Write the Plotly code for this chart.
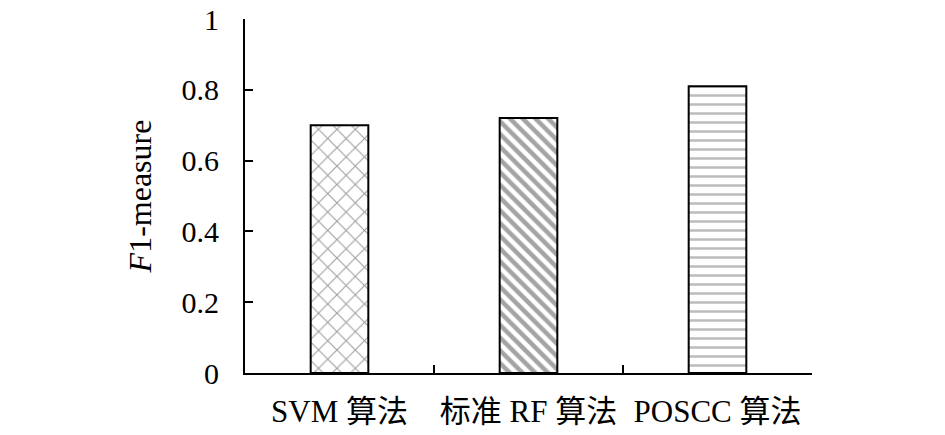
import plotly.graph_objects as go

# Kategorien und F1-Werte
algorithms = ["SVM 算法", "标准 RF 算法", "POSCC 算法"]
f1_scores = [0.70, 0.72, 0.81]
y_ticks = [0, 0.2, 0.4, 0.6, 0.8, 1]
y_tick_labels = ["0", "0.2", "0.4", "0.6", "0.8", "1"]

FONT = "Liberation Serif, Times New Roman, Noto Sans CJK SC, serif"

fig = go.Figure()

fig.add_trace(go.Bar(
    x=algorithms,
    y=f1_scores,
    width=0.305,
    marker=dict(
        color="white",
        line=dict(color="black", width=2),
        pattern=dict(
            shape=["x", "\\", "-"],
            fgcolor=["#3c3c3c", "#4a4a4a", "#7a7a7a"],
            bgcolor="white",
            size=[13, 9, 9],
            solidity=[0.16, 0.5, 0.28],
            fillmode="overlay",
        ),
    ),
    showlegend=False,
))

fig.update_layout(
    width=945,
    height=435,
    margin=dict(l=245, r=133, t=19, b=62),
    plot_bgcolor="white",
    paper_bgcolor="white",
    font=dict(family=FONT, size=30, color="black"),
    xaxis=dict(
        range=[-0.5, 2.5],
        automargin=False,
        showline=True,
        linecolor="black",
        linewidth=2,
        ticks="inside",
        tickson="boundaries",
        ticklen=8,
        tickwidth=2,
        tickcolor="black",
        showgrid=False,
        ticklabelstandoff=10,
        ticklabeloverflow="allow",
        tickfont=dict(family=FONT, size=31),
    ),
    yaxis=dict(
        range=[0, 1],
        automargin=False,
        tickvals=y_ticks,
        ticktext=y_tick_labels,
        showline=True,
        linecolor="black",
        linewidth=2,
        ticks="inside",
        ticklen=8,
        tickwidth=2,
        tickcolor="black",
        showgrid=False,
        zeroline=False,
        ticklabelstandoff=18,
        ticklabeloverflow="allow",
        tickfont=dict(family=FONT, size=30),
        title=dict(text="<i>F</i>1-measure", font=dict(family=FONT, size=32), standoff=20),
    ),
)

# Body-Rand der Seite entfernen, damit die Figur bei (0,0) beginnt
fig.write_html("out.html", config={"displayModeBar": False},
               post_script="document.body.style.margin='0';")
